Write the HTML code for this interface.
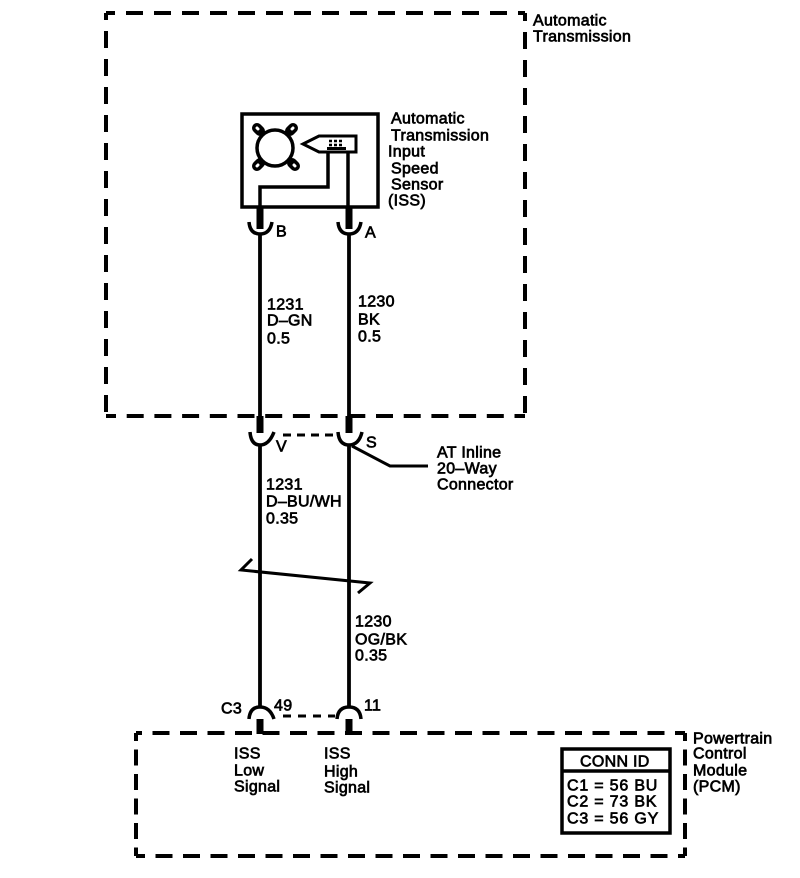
<!DOCTYPE html>
<html><head><meta charset="utf-8"><style>
html,body{margin:0;padding:0;background:#fff}
svg{display:block}
text{font-family:"Liberation Sans",sans-serif;font-size:16px;fill:#000;stroke:#000;stroke-width:.7;letter-spacing:.3px}
text.c{letter-spacing:.8px}
</style></head><body>
<svg width="800" height="878" viewBox="0 0 800 878" xmlns="http://www.w3.org/2000/svg">
<g fill="none" stroke="#000" stroke-linecap="butt">
<!-- dashed boxes -->
<g stroke-width="4">
<path d="M106 13H525" stroke-dasharray="17 11" stroke-dashoffset="8"/>
<path d="M525 13V416" stroke-dasharray="17 11" stroke-dashoffset="9"/>
<path d="M106 416H525" stroke-dasharray="17 10.7" stroke-dashoffset="7"/>
<path d="M106 13V416" stroke-dasharray="17 11" stroke-dashoffset="10"/>
<path d="M136 733H685" stroke-dasharray="17 10.5" stroke-dashoffset="11"/>
<path d="M136 856H685" stroke-dasharray="17 10.5" stroke-dashoffset="8"/>
<path d="M136 733V856" stroke-dasharray="16 8.5" stroke-dashoffset="8"/>
<path d="M685 733V856" stroke-dasharray="16 8.5" stroke-dashoffset="8"/>
</g>
<!-- sensor -->
<rect x="242" y="114" width="136" height="93" stroke-width="3.5"/>
<g stroke-width="10" stroke-linecap="round">
<path d="M257 128l3 3M293 128l-3 3M257 166l3-3M295 166l-3-3"/>
</g>
<g stroke="#fff" stroke-width="3" stroke-linecap="round">
<path d="M257 128l1 1M293 128l-1 1M257 166l1-1M295 166l-1-1"/>
</g>
<circle cx="275" cy="148" r="18" stroke-width="3.5" fill="#fff"/>
<path d="M303 144L319 136H356V152H319Z" stroke-width="3"/>
<path d="M328 152V187H260V207" stroke-width="3.5"/>
<path d="M348 152V207" stroke-width="3.5"/>
<path d="M327 148.500h19" stroke-width="3"/>
<path d="M329 141h15M329 145h15" stroke-width="2.500" stroke-dasharray="3 2"/>
<!-- stubs -->
<g stroke-width="7">
<path d="M260 207V229M349 207V229"/>
<path d="M260 416V433M349 416V433"/>
<path d="M260 719V734M349 719V734"/>
</g>
<!-- wires -->
<g stroke-width="3.8">
<path d="M260 233V416M349 233V416"/>
<path d="M260 445V708M349 445V708"/>
</g>
<!-- connectors -->
<g stroke-width="3.5">
<path d="M249 222Q250 234 260 234T272 222"/>
<path d="M338 222Q339 234 349 234T361 222"/>
<path d="M250 432Q251 445 260 445T274 432"/>
<path d="M338 432Q339 445 349 445T362 432"/>
<path d="M249 719Q250 707 260 707T274 719"/>
<path d="M337 719Q338 707 349 707T361 719"/>
</g>
<path d="M283 435H336" stroke-width="3" stroke-dasharray="8 6"/>
<path d="M283 716H335" stroke-width="3" stroke-dasharray="8 7"/>
<!-- leader -->
<path d="M352 446L390 466H428" stroke-width="3"/>
<!-- break -->
<path d="M252 559L241 570L370 583L358 593" stroke-width="3"/>
<!-- conn id -->
<rect x="562" y="749" width="108" height="84" stroke-width="3.500"/>
<path d="M562 771H670" stroke-width="3.500"/>
</g>
<g transform="translate(0,.5)">
<text x="533" y="25">Automatic</text>
<text x="533" y="41">Transmission</text>
<text x="391" y="123">Automatic</text>
<text x="391" y="140">Transmission</text>
<text x="388" y="156">Input</text>
<text x="391" y="173">Speed</text>
<text x="391" y="189">Sensor</text>
<text x="388" y="205">(ISS)</text>
<text x="276" y="236">B</text>
<text x="365" y="237">A</text>
<text x="267" y="309">1231</text>
<text x="267" y="325">D–GN</text>
<text x="267" y="343">0.5</text>
<text x="358" y="306">1230</text>
<text x="358" y="324">BK</text>
<text x="358" y="341">0.5</text>
<text x="276" y="451">V</text>
<text x="366" y="447">S</text>
<text x="437" y="457">AT Inline</text>
<text x="437" y="473">20–Way</text>
<text x="437" y="489">Connector</text>
<text x="266" y="489">1231</text>
<text x="266" y="506">D–BU/WH</text>
<text x="266" y="523">0.35</text>
<text x="355" y="626">1230</text>
<text x="355" y="644">OG/BK</text>
<text x="355" y="660">0.35</text>
<text x="221" y="713">C3</text>
<text x="274" y="710">49</text>
<text x="364" y="710">11</text>
<text x="234" y="758">ISS</text>
<text x="234" y="775">Low</text>
<text x="234" y="791">Signal</text>
<text x="324" y="758">ISS</text>
<text x="324" y="776">High</text>
<text x="324" y="792">Signal</text>
<text x="693" y="743">Powertrain</text>
<text x="693" y="758">Control</text>
<text x="693" y="775">Module</text>
<text x="693" y="791">(PCM)</text>
<text x="580" y="766">CONN ID</text>
<text class="c" x="567" y="790">C1 = 56 BU</text>
<text class="c" x="567" y="806">C2 = 73 BK</text>
<text class="c" x="567" y="823">C3 = 56 GY</text>
</g>
</svg>
</body></html>
